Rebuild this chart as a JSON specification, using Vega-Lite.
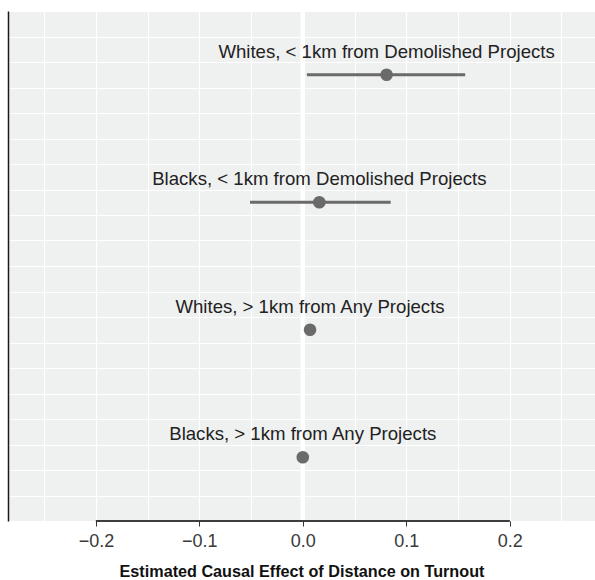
{
  "$schema": "https://vega.github.io/schema/vega-lite/v6.json",
  "width": 587,
  "height": 510,
  "autosize": {"type": "none"},
  "padding": {"left": 8, "top": 11, "right": 0, "bottom": 59},
  "background": "white",
  "config": {
    "view": {"fill": "#EFF0F0", "stroke": null},
    "font": "Liberation Sans"
  },
  "data": {
    "values": [
      {"group": "Whites, < 1km from Demolished Projects", "pos": 17.5, "est": 0.081, "lo": 0.004, "hi": 0.157},
      {"group": "Blacks, < 1km from Demolished Projects", "pos": 12.5, "est": 0.016, "lo": -0.051, "hi": 0.085},
      {"group": "Whites, > 1km from Any Projects", "pos": 7.5, "est": 0.007, "lo": 0.006, "hi": 0.008},
      {"group": "Blacks, > 1km from Any Projects", "pos": 2.5, "est": 0.0, "lo": -0.001, "hi": 0.001}
    ]
  },
  "encoding": {
    "y": {
      "field": "pos", "type": "quantitative",
      "scale": {"domain": [0, 20], "nice": false, "zero": false},
      "axis": {
        "values": [0,1,2,3,4,5,6,7,8,9,10,11,12,13,14,15,16,17,18,19,20],
        "labels": false, "ticks": false, "title": null,
        "domainColor": "#1a1a1a", "domainWidth": 1.5,
        "grid": true, "gridColor": "white", "gridWidth": 1.2
      }
    }
  },
  "layer": [
    {
      "mark": {"type": "rule", "color": "white", "strokeWidth": 4},
      "encoding": {"x": {"datum": 0, "type": "quantitative"}, "y": {"datum": 0}, "y2": {"datum": 20}}
    },
    {
      "mark": {"type": "rule", "color": "#6a6a6a", "strokeWidth": 3},
      "encoding": {
        "x": {
          "field": "lo", "type": "quantitative",
          "scale": {"domain": [-0.285, 0.2825], "nice": false, "zero": false},
          "axis": {
            "values": [-0.25, -0.2, -0.15, -0.1, -0.05, 0, 0.05, 0.1, 0.15, 0.2, 0.25],
            "labelExpr": "abs(round(datum.value*100)) % 10 == 0 && abs(datum.value) < 0.21 ? format(datum.value, '.1f') : ''",
            "labelFontSize": 18, "labelColor": "#3a3a3a", "labelPadding": 6,
            "tickColor": {"condition": {"test": "abs(round(datum.value*100)) % 10 == 0 && abs(datum.value) < 0.21", "value": "#333333"}, "value": "transparent"},
            "tickSize": 5, "tickWidth": 1,
            "domain": false,
            "grid": true, "gridColor": "white", "gridWidth": 1.2,
            "title": "Estimated Causal Effect of Distance on Turnout",
            "titleFontSize": 16.2, "titleFontWeight": "bold", "titleColor": "#111111",
            "titlePadding": 13
          }
        },
        "x2": {"field": "hi"}
      }
    },
    {
      "mark": {"type": "rule", "color": "#333333", "strokeWidth": 1.2},
      "encoding": {"x": {"datum": -0.2, "type": "quantitative"}, "x2": {"datum": 0.2}, "y": {"datum": 0}}
    },
    {
      "mark": {"type": "point", "filled": true, "color": "#6a6a6a", "opacity": 1, "size": 160},
      "encoding": {"x": {"field": "est", "type": "quantitative"}}
    },
    {
      "mark": {"type": "text", "fontSize": 18.6, "color": "#222222", "baseline": "alphabetic", "align": "center", "dy": -17},
      "encoding": {"x": {"field": "est", "type": "quantitative"}, "text": {"field": "group"}}
    }
  ]
}
